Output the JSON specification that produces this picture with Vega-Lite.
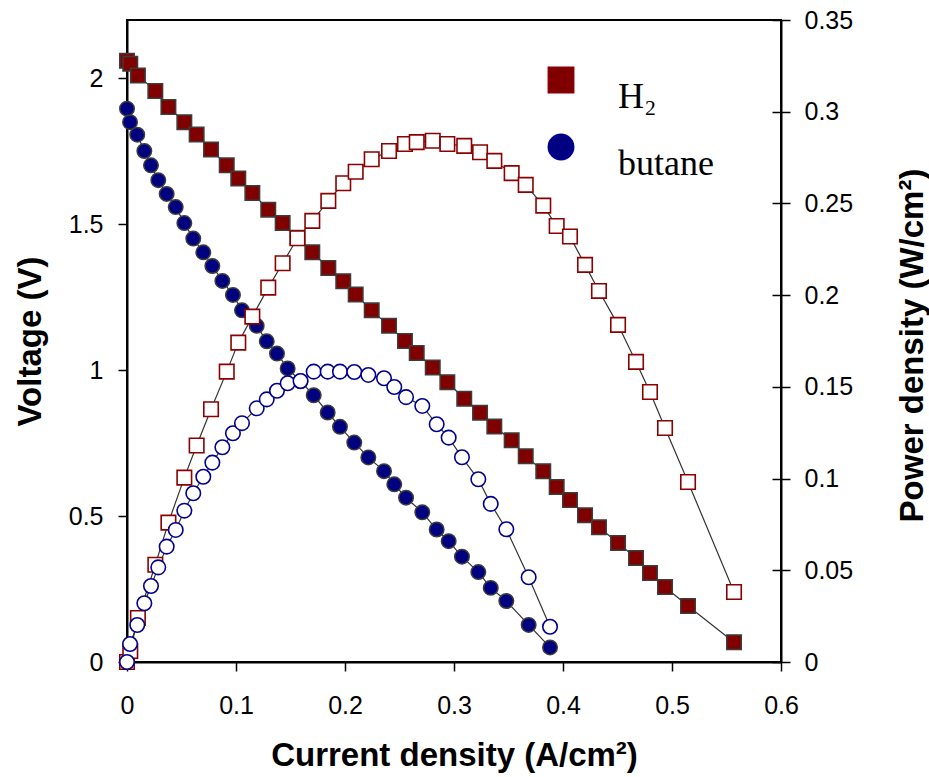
{
  "$schema": "https://vega.github.io/schema/vega-lite/v6.json",
  "width": 654,
  "height": 642,
  "autosize": {"type": "none"},
  "padding": {"left": 127, "top": 20, "right": 148, "bottom": 115},
  "background": "white",
  "config": {
    "view": {"stroke": "black", "strokeWidth": 2},
    "axis": {
      "domainColor": "black", "domainWidth": 2,
      "tickColor": "black", "tickWidth": 1.5, "tickSize": 9,
      "labelFont": "Liberation Sans", "labelFontSize": 25, "labelColor": "black",
      "titleFont": "Liberation Sans", "titleFontSize": 33, "titleFontWeight": "bold", "titleColor": "black",
      "grid": false, "labelFlush": false, "labelOverlap": false
    },
    "legend": {
      "orient": "none", "legendX": 416, "legendY": 42, "padding": 0,
      "labelFont": "Liberation Serif", "labelFontSize": 36, "labelColor": "black",
      "labelBaseline": "top", "labelOffset": 39, "rowPadding": 14,
      "symbolSize": 620, "symbolStrokeColor": "black", "symbolStrokeWidth": 2,
      "title": null
    }
  },
  "data": {"values": [
    {"s": "H2", "i": 0.0, "v": 2.06, "p": 0.0},
    {"s": "H2", "i": 0.003, "v": 2.05, "p": 0.006},
    {"s": "H2", "i": 0.010, "v": 2.01, "p": 0.024},
    {"s": "H2", "i": 0.026, "v": 1.957, "p": 0.053},
    {"s": "H2", "i": 0.038, "v": 1.902, "p": 0.076},
    {"s": "H2", "i": 0.0526, "v": 1.850, "p": 0.1005},
    {"s": "H2", "i": 0.0639, "v": 1.808, "p": 0.118},
    {"s": "H2", "i": 0.0771, "v": 1.756, "p": 0.1378},
    {"s": "H2", "i": 0.0915, "v": 1.702, "p": 0.1583},
    {"s": "H2", "i": 0.1021, "v": 1.657, "p": 0.1741},
    {"s": "H2", "i": 0.1150, "v": 1.607, "p": 0.1883},
    {"s": "H2", "i": 0.1296, "v": 1.550, "p": 0.2041},
    {"s": "H2", "i": 0.1428, "v": 1.504, "p": 0.2174},
    {"s": "H2", "i": 0.1564, "v": 1.454, "p": 0.2310},
    {"s": "H2", "i": 0.1700, "v": 1.404, "p": 0.2405},
    {"s": "H2", "i": 0.1847, "v": 1.350, "p": 0.2514},
    {"s": "H2", "i": 0.1984, "v": 1.305, "p": 0.2610},
    {"s": "H2", "i": 0.2098, "v": 1.259, "p": 0.2673},
    {"s": "H2", "i": 0.2245, "v": 1.205, "p": 0.2741},
    {"s": "H2", "i": 0.2404, "v": 1.152, "p": 0.2786},
    {"s": "H2", "i": 0.2550, "v": 1.100, "p": 0.2824},
    {"s": "H2", "i": 0.2658, "v": 1.059, "p": 0.2834},
    {"s": "H2", "i": 0.2805, "v": 1.009, "p": 0.2842},
    {"s": "H2", "i": 0.2939, "v": 0.959, "p": 0.2824},
    {"s": "H2", "i": 0.3094, "v": 0.902, "p": 0.2814},
    {"s": "H2", "i": 0.3239, "v": 0.854, "p": 0.2779},
    {"s": "H2", "i": 0.3370, "v": 0.807, "p": 0.2732},
    {"s": "H2", "i": 0.3529, "v": 0.760, "p": 0.2665},
    {"s": "H2", "i": 0.3658, "v": 0.705, "p": 0.2601},
    {"s": "H2", "i": 0.3819, "v": 0.654, "p": 0.2488},
    {"s": "H2", "i": 0.3942, "v": 0.600, "p": 0.2377},
    {"s": "H2", "i": 0.4064, "v": 0.555, "p": 0.232},
    {"s": "H2", "i": 0.4202, "v": 0.503, "p": 0.2165},
    {"s": "H2", "i": 0.4330, "v": 0.462, "p": 0.2023},
    {"s": "H2", "i": 0.4505, "v": 0.408, "p": 0.1838},
    {"s": "H2", "i": 0.4670, "v": 0.356, "p": 0.1636},
    {"s": "H2", "i": 0.4798, "v": 0.305, "p": 0.1472},
    {"s": "H2", "i": 0.4936, "v": 0.257, "p": 0.1276},
    {"s": "H2", "i": 0.5147, "v": 0.192, "p": 0.0981},
    {"s": "H2", "i": 0.5569, "v": 0.068, "p": 0.0382},
    {"s": "butane", "i": 0.0, "v": 1.896, "p": 0.0},
    {"s": "butane", "i": 0.0028, "v": 1.850, "p": 0.0098},
    {"s": "butane", "i": 0.0094, "v": 1.807, "p": 0.0202},
    {"s": "butane", "i": 0.0159, "v": 1.751, "p": 0.0320},
    {"s": "butane", "i": 0.0220, "v": 1.702, "p": 0.0414},
    {"s": "butane", "i": 0.0287, "v": 1.651, "p": 0.0516},
    {"s": "butane", "i": 0.0364, "v": 1.604, "p": 0.0629},
    {"s": "butane", "i": 0.0447, "v": 1.559, "p": 0.0720},
    {"s": "butane", "i": 0.0526, "v": 1.504, "p": 0.0825},
    {"s": "butane", "i": 0.0608, "v": 1.451, "p": 0.0920},
    {"s": "butane", "i": 0.0700, "v": 1.404, "p": 0.1010},
    {"s": "butane", "i": 0.0783, "v": 1.357, "p": 0.1087},
    {"s": "butane", "i": 0.0875, "v": 1.306, "p": 0.1171},
    {"s": "butane", "i": 0.0972, "v": 1.258, "p": 0.1247},
    {"s": "butane", "i": 0.1055, "v": 1.205, "p": 0.1302},
    {"s": "butane", "i": 0.1190, "v": 1.152, "p": 0.1383},
    {"s": "butane", "i": 0.1282, "v": 1.099, "p": 0.1432},
    {"s": "butane", "i": 0.1376, "v": 1.057, "p": 0.1479},
    {"s": "butane", "i": 0.1474, "v": 1.006, "p": 0.1520},
    {"s": "butane", "i": 0.1592, "v": 0.962, "p": 0.1532},
    {"s": "butane", "i": 0.1713, "v": 0.914, "p": 0.1583},
    {"s": "butane", "i": 0.1841, "v": 0.855, "p": 0.1583},
    {"s": "butane", "i": 0.1954, "v": 0.806, "p": 0.1583},
    {"s": "butane", "i": 0.2085, "v": 0.752, "p": 0.1581},
    {"s": "butane", "i": 0.2214, "v": 0.701, "p": 0.1565},
    {"s": "butane", "i": 0.2358, "v": 0.654, "p": 0.1547},
    {"s": "butane", "i": 0.2452, "v": 0.609, "p": 0.1499},
    {"s": "butane", "i": 0.2560, "v": 0.563, "p": 0.1444},
    {"s": "butane", "i": 0.2709, "v": 0.513, "p": 0.1396},
    {"s": "butane", "i": 0.2841, "v": 0.454, "p": 0.1296},
    {"s": "butane", "i": 0.2951, "v": 0.414, "p": 0.1223},
    {"s": "butane", "i": 0.3073, "v": 0.361, "p": 0.1116},
    {"s": "butane", "i": 0.3223, "v": 0.308, "p": 0.0996},
    {"s": "butane", "i": 0.3337, "v": 0.254, "p": 0.0862},
    {"s": "butane", "i": 0.3480, "v": 0.209, "p": 0.0724},
    {"s": "butane", "i": 0.3685, "v": 0.127, "p": 0.0462},
    {"s": "butane", "i": 0.3881, "v": 0.050, "p": 0.0192}
  ]},
  "encoding": {
    "x": {
      "field": "i", "type": "quantitative",
      "scale": {"domain": [0, 0.6], "nice": false, "zero": false},
      "axis": {
        "values": [0, 0.1, 0.2, 0.3, 0.4, 0.5, 0.6], "format": "~g",
        "labelPadding": 22,
        "title": "Current density (A/cm²)",
        "titleX": 327, "titleY": 103, "titleBaseline": "alphabetic", "titleAlign": "center"
      }
    }
  },
  "layer": [
    {
      "encoding": {
        "y": {
          "field": "v", "type": "quantitative",
          "scale": {"domain": [0, 2.2], "nice": false, "zero": false},
          "axis": {
            "orient": "left", "values": [0, 0.5, 1, 1.5, 2], "format": "~g",
            "labelPadding": 15,
            "title": "Voltage (V)",
            "titleAngle": 270, "titleX": -97, "titleY": 321, "titleBaseline": "middle", "titleAlign": "center"
          }
        }
      },
      "layer": [
        {
          "mark": {"type": "line", "color": "#333333", "strokeWidth": 1.2},
          "encoding": {"detail": {"field": "s"}}
        },
        {
          "mark": {"type": "point", "filled": true, "size": 210, "stroke": "#3c3c3c", "strokeWidth": 1.5, "opacity": 1},
          "encoding": {
            "shape": {"field": "s", "type": "nominal", "scale": {"domain": ["H2", "butane"], "range": ["square", "circle"]},
              "legend": {"labelExpr": "datum.label == 'H2' ? 'H₂' : datum.label"}},
            "fill": {"field": "s", "type": "nominal", "scale": {"domain": ["H2", "butane"], "range": ["#800000", "#000080"]},
              "legend": {"labelExpr": "datum.label == 'H2' ? 'H₂' : datum.label"}}
          }
        }
      ]
    },
    {
      "mark": {"type": "line", "color": "#333333", "strokeWidth": 1.2},
      "encoding": {
        "detail": {"field": "s"},
        "y": {
          "field": "p", "type": "quantitative",
          "scale": {"domain": [0, 0.35], "nice": false, "zero": false},
          "axis": {"orient": "right", "values": [0, 0.05, 0.1, 0.15, 0.2, 0.25, 0.3, 0.35], "tickSize": -9, "labels": false, "domain": false, "title": null}
        }
      }
    },
    {
      "mark": {"type": "point", "filled": true, "fill": "white", "size": 210, "strokeWidth": 1.6, "opacity": 1},
      "encoding": {
        "y": {
          "field": "p", "type": "quantitative",
          "scale": {"domain": [0, 0.35], "nice": false, "zero": false},
          "axis": {
            "orient": "right", "values": [0, 0.05, 0.1, 0.15, 0.2, 0.25, 0.3, 0.35], "format": "~g",
            "labelPadding": 14,
            "title": "Power density (W/cm²)",
            "titleAngle": 270, "titleX": 131, "titleY": 325, "titleBaseline": "middle", "titleAlign": "center"
          }
        },
        "shape": {"field": "s", "type": "nominal", "legend": null},
        "stroke": {"field": "s", "type": "nominal", "scale": {"domain": ["H2", "butane"], "range": ["#8b0000", "#000090"]}, "legend": null}
      }
    }
  ],
  "resolve": {"scale": {"y": "independent"}}
}
